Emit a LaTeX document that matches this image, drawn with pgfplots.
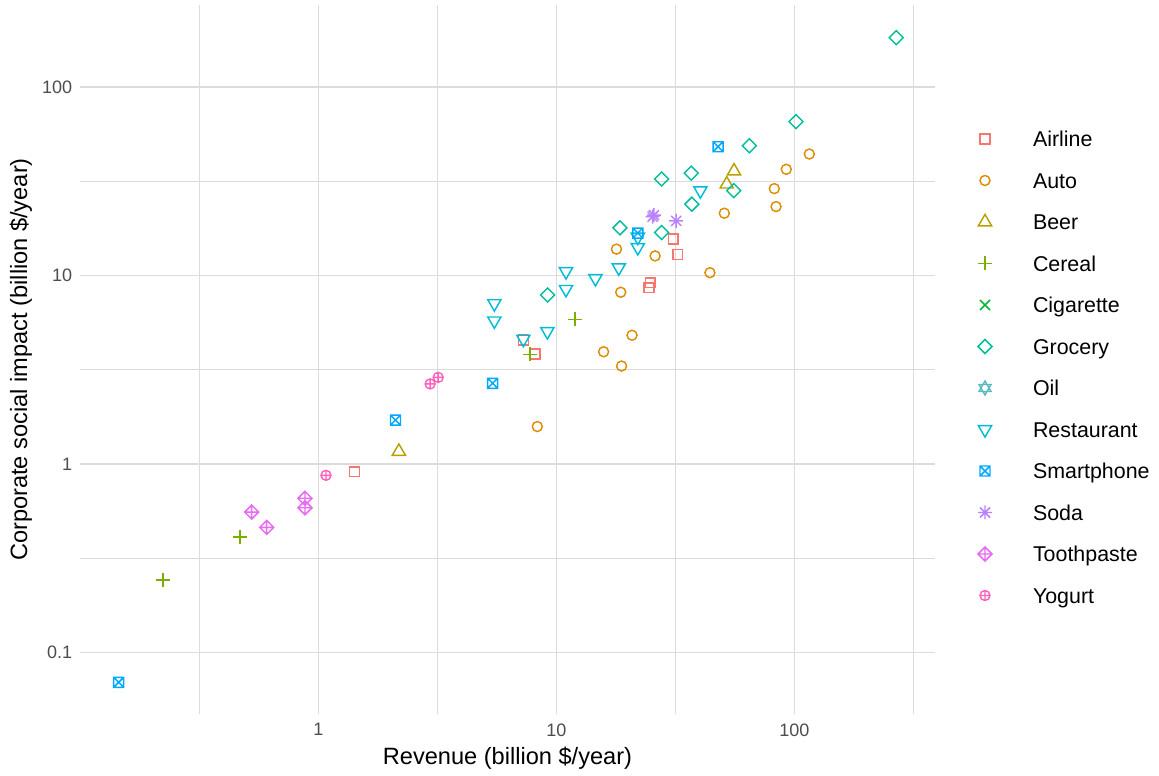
\documentclass[border=0pt]{standalone}
\usepackage{fontspec}
\setmainfont{Liberation Sans}
\usepackage{pgfplots}
\pgfplotsset{compat=1.18}

\definecolor{cAirline}{HTML}{F8766D}
\definecolor{cAuto}{HTML}{DE8C00}
\definecolor{cBeer}{HTML}{B79F00}
\definecolor{cCereal}{HTML}{7CAE00}
\definecolor{cCigarette}{HTML}{00BA38}
\definecolor{cGrocery}{HTML}{00BF9A}
\definecolor{cOil}{HTML}{5CB9C2}
\definecolor{cRestaurant}{HTML}{00BCD8}
\definecolor{cSmartphone}{HTML}{00A9FF}
\definecolor{cSoda}{HTML}{B983FF}
\definecolor{cToothpaste}{HTML}{E76BF3}
\definecolor{cYogurt}{HTML}{FF62BC}
\definecolor{gridc}{HTML}{DCDCDC}
\definecolor{tickc}{HTML}{4D4D4D}

\pgfdeclareplotmark{rsquare}{\pgfpathrectangle{\pgfpoint{-4.9bp}{-4.9bp}}{\pgfpoint{9.8bp}{9.8bp}}\pgfusepathqstroke}
\pgfdeclareplotmark{rcircle}{\pgfpathcircle{\pgfpointorigin}{5bp}\pgfusepathqstroke}
\pgfdeclareplotmark{rtriup}{\pgfpathmoveto{\pgfpoint{0bp}{7.6bp}}\pgfpathlineto{\pgfpoint{-6.58bp}{-3.8bp}}\pgfpathlineto{\pgfpoint{6.58bp}{-3.8bp}}\pgfpathclose\pgfusepathqstroke}
\pgfdeclareplotmark{rtridown}{\pgfpathmoveto{\pgfpoint{0bp}{-7.6bp}}\pgfpathlineto{\pgfpoint{-6.58bp}{3.8bp}}\pgfpathlineto{\pgfpoint{6.58bp}{3.8bp}}\pgfpathclose\pgfusepathqstroke}
\pgfdeclareplotmark{rplus}{\pgfpathmoveto{\pgfpoint{-7bp}{0bp}}\pgfpathlineto{\pgfpoint{7bp}{0bp}}\pgfpathmoveto{\pgfpoint{0bp}{-7bp}}\pgfpathlineto{\pgfpoint{0bp}{7bp}}\pgfusepathqstroke}
\pgfdeclareplotmark{rx}{\pgfpathmoveto{\pgfpoint{-5bp}{-5bp}}\pgfpathlineto{\pgfpoint{5bp}{5bp}}\pgfpathmoveto{\pgfpoint{-5bp}{5bp}}\pgfpathlineto{\pgfpoint{5bp}{-5bp}}\pgfusepathqstroke}
\pgfdeclareplotmark{rdiamond}{\pgfpathmoveto{\pgfpoint{0bp}{7bp}}\pgfpathlineto{\pgfpoint{7bp}{0bp}}\pgfpathlineto{\pgfpoint{0bp}{-7bp}}\pgfpathlineto{\pgfpoint{-7bp}{0bp}}\pgfpathclose\pgfusepathqstroke}
\pgfdeclareplotmark{rstar}{\pgfpathmoveto{\pgfpoint{0bp}{7bp}}\pgfpathlineto{\pgfpoint{-6.06bp}{-3.5bp}}\pgfpathlineto{\pgfpoint{6.06bp}{-3.5bp}}\pgfpathclose
\pgfpathmoveto{\pgfpoint{0bp}{-7bp}}\pgfpathlineto{\pgfpoint{-6.06bp}{3.5bp}}\pgfpathlineto{\pgfpoint{6.06bp}{3.5bp}}\pgfpathclose\pgfusepathqstroke}
\pgfdeclareplotmark{rsqx}{\pgfpathrectangle{\pgfpoint{-5bp}{-5bp}}{\pgfpoint{10bp}{10bp}}\pgfpathmoveto{\pgfpoint{-5bp}{-5bp}}\pgfpathlineto{\pgfpoint{5bp}{5bp}}\pgfpathmoveto{\pgfpoint{-5bp}{5bp}}\pgfpathlineto{\pgfpoint{5bp}{-5bp}}\pgfusepathqstroke}
\pgfdeclareplotmark{rast}{\pgfpathmoveto{\pgfpoint{-7bp}{0bp}}\pgfpathlineto{\pgfpoint{7bp}{0bp}}\pgfpathmoveto{\pgfpoint{0bp}{-7bp}}\pgfpathlineto{\pgfpoint{0bp}{7bp}}\pgfpathmoveto{\pgfpoint{-5bp}{-5bp}}\pgfpathlineto{\pgfpoint{5bp}{5bp}}\pgfpathmoveto{\pgfpoint{-5bp}{5bp}}\pgfpathlineto{\pgfpoint{5bp}{-5bp}}\pgfusepathqstroke}
\pgfdeclareplotmark{rdiaplus}{\pgfpathmoveto{\pgfpoint{0bp}{7bp}}\pgfpathlineto{\pgfpoint{7bp}{0bp}}\pgfpathlineto{\pgfpoint{0bp}{-7bp}}\pgfpathlineto{\pgfpoint{-7bp}{0bp}}\pgfpathclose\pgfpathmoveto{\pgfpoint{-7bp}{0bp}}\pgfpathlineto{\pgfpoint{7bp}{0bp}}\pgfpathmoveto{\pgfpoint{0bp}{-7bp}}\pgfpathlineto{\pgfpoint{0bp}{7bp}}\pgfusepathqstroke}
\pgfdeclareplotmark{rcplus}{\pgfpathcircle{\pgfpointorigin}{5bp}\pgfpathmoveto{\pgfpoint{-5bp}{0bp}}\pgfpathlineto{\pgfpoint{5bp}{0bp}}\pgfpathmoveto{\pgfpoint{0bp}{-5bp}}\pgfpathlineto{\pgfpoint{0bp}{5bp}}\pgfusepathqstroke}

\begin{document}
\begin{tikzpicture}
\begin{axis}[
  at={(80bp,62bp)}, anchor=south west,
  scale only axis, width=855bp, height=709bp,
  xmode=log, ymode=log,
  xmin=0.0997, xmax=390, ymin=0.04718, ymax=272.3,
  xtick={1,10,100}, xticklabels={1,10,100},
  ytick={0.1,1,10,100}, yticklabels={0.1,1,10,100},
  minor xtick={0.316227766,3.16227766,31.6227766,316.227766},
  minor ytick={0.316227766,3.16227766,31.6227766},
  grid=both,
  major grid style={color=gridc, line width=1.1bp},
  minor grid style={color=gridc, line width=1.1bp},
  axis line style={draw=none},
  tick style={draw=none},
  major tick length=0pt, minor tick length=0pt,
  ticklabel style={font=\fontsize{18bp}{20bp}\selectfont, text=tickc, inner sep=0pt},
  xticklabel style={anchor=north, yshift=-9.3bp},
  yticklabel style={anchor=east, xshift=-7.7bp},
  every axis plot/.append style={line width=1.45bp},
  legend cell align=left,
  legend image code/.code={\pgfpathrectangle{\pgfpoint{-10bp}{-20.75bp}}{\pgfpoint{20bp}{41.5bp}}\pgfusepath{use as bounding box}\draw[#1] plot coordinates {(0bp,0bp)};},
  legend style={
    at={(1.04678,0.84027)}, anchor=north west,
    draw=none, fill=none, inner sep=0pt, outer sep=0pt,
    row sep=0pt,
    font=\fontsize{21.4bp}{24bp}\selectfont,
    nodes={inner sep=0pt, text height=15.3bp, text depth=0pt},
    /tikz/every odd column/.append style={column sep=38bp},
  },
]
\addplot[only marks, mark=rsquare, color=cAirline] coordinates {
(1.42,0.91) (7.27,4.55) (8.16,3.83) (24.8,9.16) (24.5,8.61) (31.0,15.6) (32.4,12.95)};
\addlegendentry{Airline}
\addplot[only marks, mark=rcircle, color=cAuto] coordinates {
(8.32,1.58) (15.8,3.94) (18.8,3.31) (20.8,4.82) (18.65,8.15) (17.9,13.8) (26.0,12.7)
(44.2,10.35) (50.8,21.4) (83.8,23.2) (82.4,28.9) (92.5,36.6) (115.6,44.1)};
\addlegendentry{Auto}
\addplot[only marks, mark=rtriup, color=cBeer] coordinates {
(2.18,1.165) (52.0,30.5) (55.8,35.8)};
\addlegendentry{Beer}
\addplot[only marks, mark=rplus, color=cCereal] coordinates {
(0.223,0.2425) (0.469,0.41) (7.75,3.82) (11.98,5.86)};
\addlegendentry{Cereal}
\addlegendimage{only marks, mark=rx, color=cCigarette, line width=1.45bp}
\addlegendentry{Cigarette}
\addplot[only marks, mark=rdiamond, color=cGrocery] coordinates {
(9.2,7.88) (18.5,17.9) (27.7,16.9) (37.1,23.9) (27.7,32.5) (36.9,34.9) (55.6,28.2)
(64.7,48.8) (101.6,65.5) (268,182.6)};
\addlegendentry{Grocery}
\addlegendimage{only marks, mark=rstar, color=cOil, line width=1.45bp}
\addlegendentry{Oil}
\addplot[only marks, mark=rtridown, color=cRestaurant] coordinates {
(5.49,7.1) (5.49,5.75) (9.17,5.05) (7.27,4.6) (10.98,10.5) (10.98,8.45) (14.6,9.65)
(18.3,11.0) (22.0,14.1) (22.0,16.0) (40.3,28.2)};
\addlegendentry{Restaurant}
\addplot[only marks, mark=rsqx, color=cSmartphone] coordinates {
(0.145,0.0695) (2.11,1.71) (5.40,2.68) (22.0,16.8) (47.8,48.2)};
\addlegendentry{Smartphone}
\addplot[only marks, mark=rast, color=cSoda] coordinates {
(25.4,20.5) (25.7,20.9) (31.9,19.5)};
\addlegendentry{Soda}
\addplot[only marks, mark=rdiaplus, color=cToothpaste] coordinates {
(0.525,0.556) (0.607,0.461) (0.879,0.658) (0.879,0.586)};
\addlegendentry{Toothpaste}
\addplot[only marks, mark=rcplus, color=cYogurt] coordinates {
(1.077,0.871) (2.95,2.66) (3.19,2.88)};
\addlegendentry{Yogurt}
\end{axis}
\node[anchor=base, font=\fontsize{23.6bp}{26bp}\selectfont, inner sep=0pt] at (507.5bp,12bp) {Revenue (billion \$/year)};
\node[anchor=base, rotate=90, font=\fontsize{23.6bp}{26bp}\selectfont, inner sep=0pt] at (27bp,416.5bp) {Corporate social impact (billion \$/year)};
\pgfresetboundingbox
\path (0,0) rectangle (1159bp,776bp);
\end{tikzpicture}
\end{document}
